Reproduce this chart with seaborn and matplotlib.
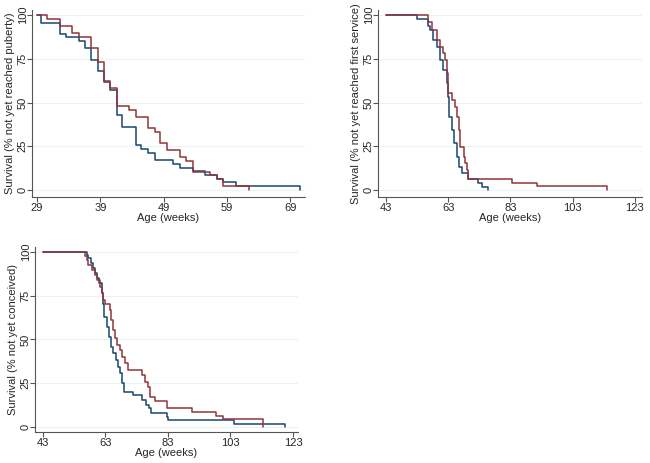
import pandas as pd
import seaborn as sns
import matplotlib.pyplot as plt

# Kaplan-Meier steps: week of each step, survival (%) after it
# puberty
pub_wk_blue = [29, 29.6, 32.6, 33.6, 35.6, 36.6, 37.6, 38.6, 39.6, 40.5, 41.6, 42.5,
               44.6, 45.5, 46.6, 47.6, 50.5, 51.6, 53.6, 55.5, 57.4, 58.4, 60.5, 70.5]
pub_sv_blue = [100, 95.7, 89.4, 87.2, 85.1, 80.9, 74.5, 68.1, 61.7, 57.4, 42.6, 36.2,
               25.5, 23.4, 21.3, 17.0, 14.9, 12.8, 10.6, 8.5, 6.4, 4.3, 2.1, 0]
pub_wk_red = [29, 30.5, 32.6, 34.6, 35.6, 37.6, 38.6, 39.6, 40.5, 41.6, 43.6, 44.6,
              46.6, 47.6, 48.5, 49.6, 51.6, 52.5, 53.6, 56.4, 57.4, 58.4, 62.5]
pub_sv_red = [100, 97.9, 93.8, 89.6, 87.5, 81.3, 72.9, 62.5, 58.3, 47.9, 45.8, 41.7,
              35.4, 33.3, 27.1, 22.9, 18.8, 16.7, 10.4, 8.3, 6.3, 2.1, 0]

# first service
srv_wk_blue = [43, 53.1, 56.6, 57.1, 58.2, 59.3, 60.4, 61.4, 62.5, 62.9, 63.1, 64.1,
               65.0, 65.7, 66.3, 67.3, 69.3, 72.7, 73.8, 75.9]
srv_sv_blue = [100, 97.9, 93.8, 91.4, 85.7, 81.9, 74.3, 68.6, 61.0, 53.3, 41.9, 34.3,
               26.7, 19.0, 13.3, 9.5, 6.1, 4.1, 2.0, 0]
srv_wk_red = [43, 56.6, 57.7, 59.3, 60.4, 61.4, 62.0, 62.5, 63.0, 64.1, 65.2, 65.7,
              66.3, 66.8, 67.9, 68.4, 68.9, 69.5, 83.4, 91.6, 114.0]
srv_sv_red = [100, 95.8, 91.4, 85.7, 81.9, 78.1, 74.3, 66.7, 55.2, 51.4, 47.6, 41.9,
              34.3, 24.8, 19.0, 15.2, 11.4, 6.2, 4.2, 2.1, 0]

# conception
con_wk_blue = [43, 57.0, 57.5, 58.3, 59.1, 59.6, 60.2, 61.0, 61.8, 62.3, 62.6, 63.4,
               64.2, 64.9, 65.5, 66.4, 67.1, 67.6, 68.2, 68.9, 71.9, 74.6, 75.9, 77.0,
               77.6, 82.6, 83.1, 104.1, 120.4]
con_sv_blue = [100, 98, 96.4, 93.5, 90.7, 87.8, 84.9, 82.1, 76.4, 70.5, 63.0, 57.3,
               51.6, 45.9, 42.1, 38.3, 34.5, 30.7, 25.0, 20.2, 18.3, 15.4, 12.6, 10.7,
               7.8, 5.9, 4.0, 1.9, 0]
con_wk_red = [43, 56.4, 57.0, 57.5, 58.6, 59.6, 60.2, 61.2, 61.8, 62.3, 62.8, 64.4,
              64.9, 65.5, 66.0, 66.6, 67.6, 68.2, 69.2, 70.3, 74.6, 75.6, 76.7, 77.2,
              78.8, 82.6, 90.6, 98.4, 100.5, 113.3]
con_sv_red = [100, 97.9, 95.4, 92.6, 89.7, 86.9, 84.0, 80.2, 76.4, 72.6, 70.2, 66.9,
              61.1, 55.4, 50.7, 46.9, 44.0, 40.2, 36.4, 32.6, 29.7, 25.9, 23.0, 17.3,
              14.6, 10.6, 8.5, 6.4, 4.3, 0]

ylabels = ['Survival (% not yet reached puberty)',
           'Survival (% not yet reached first service)',
           'Survival (% not yet conceived)']
xticks_pub = [29, 39, 49, 59, 69]
xticks_age = [43, 63, 83, 103, 123]
yticks = [0, 25, 50, 75, 100]


def km_frame(wk_b, sv_b, wk_r, sv_r):
    a = pd.DataFrame({'week': wk_b, 'surv': sv_b, 'group': 'blue'})
    b = pd.DataFrame({'week': wk_r, 'surv': sv_r, 'group': 'red'})
    return pd.concat([a, b], ignore_index=True)


sns.set_style('white')
plt.rcParams['font.family'] = ['Liberation Sans', 'DejaVu Sans']
pal = {'blue': '#1a476f', 'red': '#90353b'}
axcol = '#555555'

fig = plt.figure(figsize=(6.5, 4.63), dpi=100)
W, H = 650, 463


def box(l, r, t, b):
    return [l / W, 1 - b / H, (r - l) / W, (b - t) / H]


panels = [
    (box(32, 305, 9.75, 197), km_frame(pub_wk_blue, pub_sv_blue, pub_wk_red, pub_sv_red),
     (28.2, 71.35), xticks_pub, (-4, 103), ylabels[0]),
    (box(378, 642, 9.75, 197), km_frame(srv_wk_blue, srv_sv_blue, srv_wk_red, srv_sv_red),
     (40.4, 125.3), xticks_age, (-4, 103), ylabels[1]),
    (box(35, 298, 246.75, 432), km_frame(con_wk_blue, con_sv_blue, con_wk_red, con_sv_red),
     (40.45, 124.6), xticks_age, (-2.9, 103), ylabels[2]),
]

for rect, df, xl, xt, yl, lab in panels:
    ax = fig.add_axes(rect)
    for y in yticks:
        ax.axhline(y, color='#eaf2f3', lw=0.8, zorder=0)
    sns.lineplot(data=df, x='week', y='surv', hue='group', palette=pal, ax=ax,
                 estimator=None, sort=False, drawstyle='steps-post', lw=1.1,
                 legend=False)
    ax.set_xlim(*xl)
    ax.set_ylim(*yl)
    ax.set_xticks(xt)
    ax.set_yticks(yticks)
    ax.set_yticklabels([str(v) for v in yticks], rotation=90, va='center')
    sns.despine(ax=ax)
    for s in ['left', 'bottom']:
        ax.spines[s].set_color(axcol)
        ax.spines[s].set_linewidth(0.8)
    ax.tick_params(direction='out', length=3.5, width=0.8, color=axcol,
                   labelsize=8, left=True, bottom=True)
    ax.tick_params(axis='x', pad=1)
    ax.tick_params(axis='y', pad=-0.5)
    ax.set_xlabel('Age (weeks)', fontsize=8, labelpad=0)
    ax.set_ylabel(lab, fontsize=8, labelpad=2)

plt.savefig('out.png', dpi=100)
